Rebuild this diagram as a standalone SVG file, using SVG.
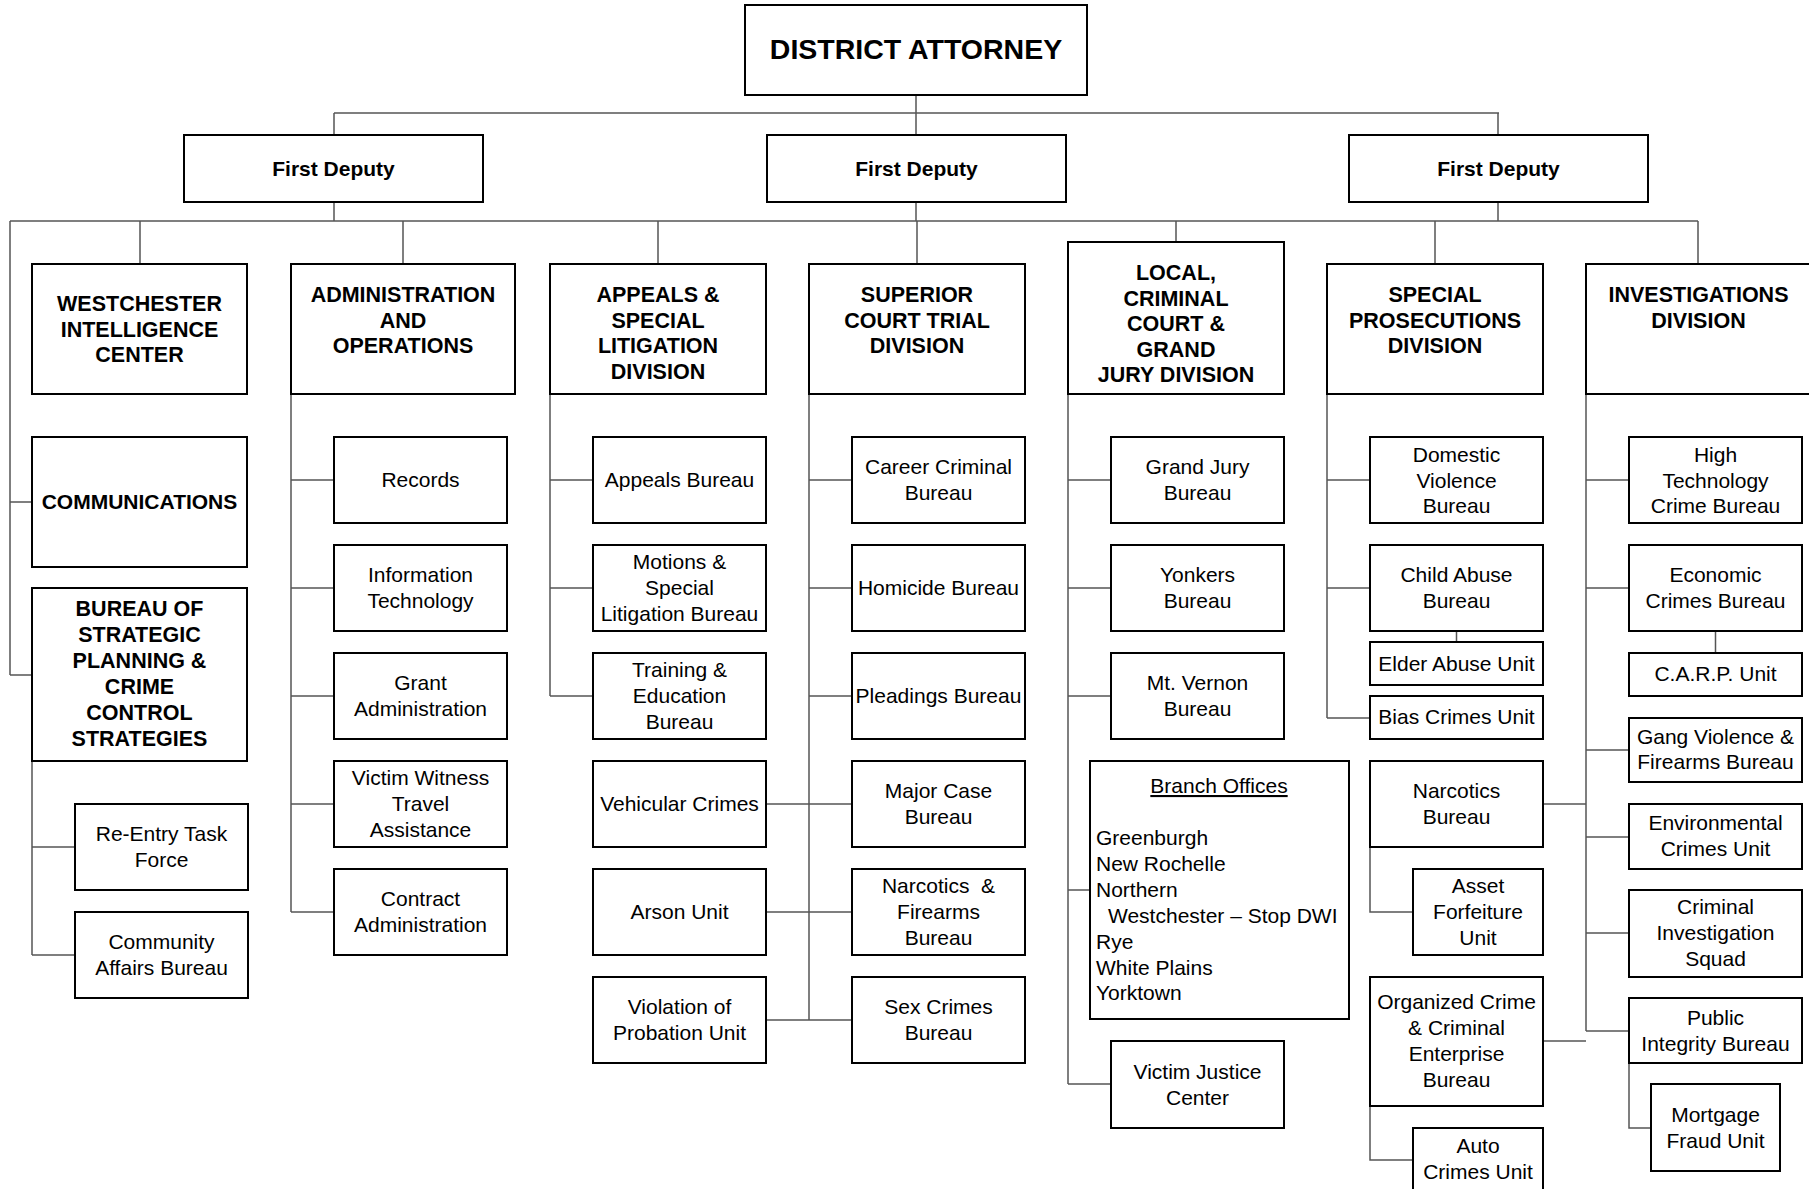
<svg xmlns="http://www.w3.org/2000/svg" width="1809" height="1189" viewBox="0 0 1809 1189">
<style>
.box{fill:#fff;stroke:#000;stroke-width:2}
.con{fill:none;stroke:#555;stroke-width:1.5}
.b{font-family:"Liberation Sans",Arial,sans-serif;font-weight:bold;font-size:21.5px;text-anchor:middle;fill:#000}
.r{font-family:"Liberation Sans",Arial,sans-serif;font-size:21px;text-anchor:middle;fill:#000}
.l{font-family:"Liberation Sans",Arial,sans-serif;font-size:21px;text-anchor:start;fill:#000}
</style>
<rect width="1809" height="1189" fill="#fff"/>
<g id="connectors">
<path class="con" d="M916 95V113M334 113H1499M334 113V135M916 113V135M1498 113V135"/>
<path class="con" d="M334 202V221M916 202V221M1498 202V221M10 221H1698"/>
<path class="con" d="M140 221V264M403 221V264M658 221V264M917 221V264M1176 221V242M1435 221V264M1698 221V264"/>
<path class="con" d="M10 221V675M10 502H32M10 675H32"/>
<path class="con" d="M32 761V955M32 847H75M32 955H75"/>
<path class="con" d="M291 394V912M291 480H334M291 588H334M291 696H334M291 804H334M291 912H334"/>
<path class="con" d="M550 394V696M550 480H593M550 588H593M550 696H593"/>
<path class="con" d="M809 394V1020M809 480H852M809 588H852M809 696H852M766 804H852M766 912H852M766 1020H852"/>
<path class="con" d="M1068 394V1084M1068 480H1111M1068 588H1111M1068 696H1111M1068 890H1090M1068 1084H1111"/>
<path class="con" d="M1327 394V718M1327 480H1370M1327 588H1370M1327 718H1370M1456.5 631V642"/>
<path class="con" d="M1370 847V912H1413M1370 1106V1160H1413M1543 804H1586M1543 1041H1586"/>
<path class="con" d="M1586 394V1031M1586 480H1629M1586 588H1629M1586 750H1629M1586 837H1629M1586 933H1629M1586 1031H1629"/>
<path class="con" d="M1715.5 631V653M1629 1063V1128H1651"/>
</g>
<g id="district-attorney"><rect class="box" x="745" y="5" width="342" height="90"/><text class="b" style="font-size:28.5px" x="916" y="58.5">DISTRICT ATTORNEY</text></g>
<g id="first-deputy-1"><rect class="box" x="184" y="135" width="299" height="67"/><text class="b" style="font-size:21px" x="333.5" y="176">First Deputy</text></g>
<g id="first-deputy-2"><rect class="box" x="767" y="135" width="299" height="67"/><text class="b" style="font-size:21px" x="916.5" y="176">First Deputy</text></g>
<g id="first-deputy-3"><rect class="box" x="1349" y="135" width="299" height="67"/><text class="b" style="font-size:21px" x="1498.5" y="176">First Deputy</text></g>

<g id="westchester-intelligence"><rect class="box" x="32" y="264" width="215" height="130"/><text class="b" x="139.5"><tspan x="139.5" y="311">WESTCHESTER</tspan><tspan x="139.5" y="336.5">INTELLIGENCE</tspan><tspan x="139.5" y="362">CENTER</tspan></text></g>
<g id="administration"><rect class="box" x="291" y="264" width="224" height="130"/><text class="b"><tspan x="403" y="301.5">ADMINISTRATION</tspan><tspan x="403" y="327.5">AND</tspan><tspan x="403" y="353">OPERATIONS</tspan></text></g>
<g id="appeals"><rect class="box" x="550" y="264" width="216" height="130"/><text class="b"><tspan x="658" y="301.5">APPEALS &amp;</tspan><tspan x="658" y="327.5">SPECIAL</tspan><tspan x="658" y="353">LITIGATION</tspan><tspan x="658" y="378.5">DIVISION</tspan></text></g>
<g id="superior"><rect class="box" x="809" y="264" width="216" height="130"/><text class="b"><tspan x="917" y="301.5">SUPERIOR</tspan><tspan x="917" y="327.5">COURT TRIAL</tspan><tspan x="917" y="353">DIVISION</tspan></text></g>
<g id="local"><rect class="box" x="1068" y="242" width="216" height="152"/><text class="b"><tspan x="1176" y="280">LOCAL,</tspan><tspan x="1176" y="305.5">CRIMINAL</tspan><tspan x="1176" y="331">COURT &amp;</tspan><tspan x="1176" y="356.5">GRAND</tspan><tspan x="1176" y="382">JURY DIVISION</tspan></text></g>
<g id="special"><rect class="box" x="1327" y="264" width="216" height="130"/><text class="b"><tspan x="1435" y="301.5">SPECIAL</tspan><tspan x="1435" y="327.5">PROSECUTIONS</tspan><tspan x="1435" y="353">DIVISION</tspan></text></g>
<g id="investigations"><rect class="box" x="1586" y="264" width="230" height="130"/><text class="b"><tspan x="1698.5" y="301.5">INVESTIGATIONS</tspan><tspan x="1698.5" y="327.5">DIVISION</tspan></text></g>

<g id="communications"><rect class="box" x="32" y="437" width="215" height="130"/><text class="b" style="font-size:21px" x="139.5" y="508.5">COMMUNICATIONS</text></g>
<g id="strategic-planning"><rect class="box" x="32" y="588" width="215" height="173"/><text class="b"><tspan x="139.5" y="616">BUREAU OF</tspan><tspan x="139.5" y="642">STRATEGIC</tspan><tspan x="139.5" y="668">PLANNING &amp;</tspan><tspan x="139.5" y="694">CRIME</tspan><tspan x="139.5" y="720">CONTROL</tspan><tspan x="139.5" y="746">STRATEGIES</tspan></text></g>
<g id="re-entry"><rect class="box" x="75" y="804" width="173" height="86"/><text class="r"><tspan x="161.5" y="841">Re-Entry Task</tspan><tspan x="161.5" y="867">Force</tspan></text></g>
<g id="community-affairs"><rect class="box" x="75" y="912" width="173" height="86"/><text class="r"><tspan x="161.5" y="949">Community</tspan><tspan x="161.5" y="975">Affairs Bureau</tspan></text></g>

<g id="records"><rect class="box" x="334" y="437" width="173" height="86"/><text class="r" x="420.5" y="487">Records</text></g>
<g id="information-technology"><rect class="box" x="334" y="545" width="173" height="86"/><text class="r"><tspan x="420.5" y="582">Information</tspan><tspan x="420.5" y="608">Technology</tspan></text></g>
<g id="grant-administration"><rect class="box" x="334" y="653" width="173" height="86"/><text class="r"><tspan x="420.5" y="690">Grant</tspan><tspan x="420.5" y="716">Administration</tspan></text></g>
<g id="victim-witness"><rect class="box" x="334" y="761" width="173" height="86"/><text class="r"><tspan x="420.5" y="785">Victim Witness</tspan><tspan x="420.5" y="811">Travel</tspan><tspan x="420.5" y="837">Assistance</tspan></text></g>
<g id="contract-administration"><rect class="box" x="334" y="869" width="173" height="86"/><text class="r"><tspan x="420.5" y="906">Contract</tspan><tspan x="420.5" y="932">Administration</tspan></text></g>

<g id="appeals-bureau"><rect class="box" x="593" y="437" width="173" height="86"/><text class="r" x="679.5" y="487">Appeals Bureau</text></g>
<g id="motions"><rect class="box" x="593" y="545" width="173" height="86"/><text class="r"><tspan x="679.5" y="569">Motions &amp;</tspan><tspan x="679.5" y="595">Special</tspan><tspan x="679.5" y="621">Litigation Bureau</tspan></text></g>
<g id="training"><rect class="box" x="593" y="653" width="173" height="86"/><text class="r"><tspan x="679.5" y="677">Training &amp;</tspan><tspan x="679.5" y="703">Education</tspan><tspan x="679.5" y="729">Bureau</tspan></text></g>
<g id="vehicular-crimes"><rect class="box" x="593" y="761" width="173" height="86"/><text class="r" x="679.5" y="811">Vehicular Crimes</text></g>
<g id="arson-unit"><rect class="box" x="593" y="869" width="173" height="86"/><text class="r" x="679.5" y="919">Arson Unit</text></g>
<g id="violation-probation"><rect class="box" x="593" y="977" width="173" height="86"/><text class="r"><tspan x="679.5" y="1014">Violation of</tspan><tspan x="679.5" y="1040">Probation Unit</tspan></text></g>

<g id="career-criminal"><rect class="box" x="852" y="437" width="173" height="86"/><text class="r"><tspan x="938.5" y="474">Career Criminal</tspan><tspan x="938.5" y="500">Bureau</tspan></text></g>
<g id="homicide"><rect class="box" x="852" y="545" width="173" height="86"/><text class="r" x="938.5" y="595">Homicide Bureau</text></g>
<g id="pleadings"><rect class="box" x="852" y="653" width="173" height="86"/><text class="r" x="938.5" y="703">Pleadings Bureau</text></g>
<g id="major-case"><rect class="box" x="852" y="761" width="173" height="86"/><text class="r"><tspan x="938.5" y="798">Major Case</tspan><tspan x="938.5" y="824">Bureau</tspan></text></g>
<g id="narcotics-firearms"><rect class="box" x="852" y="869" width="173" height="86"/><text class="r" xml:space="preserve"><tspan x="938.5" y="893">Narcotics  &amp;</tspan><tspan x="938.5" y="919">Firearms</tspan><tspan x="938.5" y="945">Bureau</tspan></text></g>
<g id="sex-crimes"><rect class="box" x="852" y="977" width="173" height="86"/><text class="r"><tspan x="938.5" y="1014">Sex Crimes</tspan><tspan x="938.5" y="1040">Bureau</tspan></text></g>

<g id="grand-jury"><rect class="box" x="1111" y="437" width="173" height="86"/><text class="r"><tspan x="1197.5" y="474">Grand Jury</tspan><tspan x="1197.5" y="500">Bureau</tspan></text></g>
<g id="yonkers"><rect class="box" x="1111" y="545" width="173" height="86"/><text class="r"><tspan x="1197.5" y="582">Yonkers</tspan><tspan x="1197.5" y="608">Bureau</tspan></text></g>
<g id="mt-vernon"><rect class="box" x="1111" y="653" width="173" height="86"/><text class="r"><tspan x="1197.5" y="690">Mt. Vernon</tspan><tspan x="1197.5" y="716">Bureau</tspan></text></g>
<g id="branch-offices"><rect class="box" x="1090" y="761" width="259" height="258"/>
<text class="r" x="1219" y="793" text-decoration="underline">Branch Offices</text>
<text class="l"><tspan x="1096" y="845">Greenburgh</tspan><tspan x="1096" y="871">New Rochelle</tspan><tspan x="1096" y="897">Northern</tspan><tspan x="1108" y="923">Westchester – Stop DWI</tspan><tspan x="1096" y="948.5">Rye</tspan><tspan x="1096" y="974.5">White Plains</tspan><tspan x="1096" y="1000">Yorktown</tspan></text></g>
<g id="victim-justice"><rect class="box" x="1111" y="1041" width="173" height="87"/><text class="r"><tspan x="1197.5" y="1078.5">Victim Justice</tspan><tspan x="1197.5" y="1104.5">Center</tspan></text></g>

<g id="domestic-violence"><rect class="box" x="1370" y="437" width="173" height="86"/><text class="r"><tspan x="1456.5" y="461.5">Domestic</tspan><tspan x="1456.5" y="487.5">Violence</tspan><tspan x="1456.5" y="513">Bureau</tspan></text></g>
<g id="child-abuse"><rect class="box" x="1370" y="545" width="173" height="86"/><text class="r"><tspan x="1456.5" y="582">Child Abuse</tspan><tspan x="1456.5" y="608">Bureau</tspan></text></g>
<g id="elder-abuse"><rect class="box" x="1370" y="642" width="173" height="43"/><text class="r" x="1456.5" y="670.5">Elder Abuse Unit</text></g>
<g id="bias-crimes"><rect class="box" x="1370" y="696" width="173" height="43"/><text class="r" x="1456.5" y="724">Bias Crimes Unit</text></g>
<g id="narcotics-bureau"><rect class="box" x="1370" y="761" width="173" height="86"/><text class="r"><tspan x="1456.5" y="797.5">Narcotics</tspan><tspan x="1456.5" y="823.5">Bureau</tspan></text></g>
<g id="asset-forfeiture"><rect class="box" x="1413" y="869" width="130" height="86"/><text class="r"><tspan x="1478" y="893">Asset</tspan><tspan x="1478" y="919">Forfeiture</tspan><tspan x="1478" y="945">Unit</tspan></text></g>
<g id="organized-crime"><rect class="box" x="1370" y="977" width="173" height="129"/><text class="r"><tspan x="1456.5" y="1008.5">Organized Crime</tspan><tspan x="1456.5" y="1034.5">&amp; Criminal</tspan><tspan x="1456.5" y="1060.5">Enterprise</tspan><tspan x="1456.5" y="1086.5">Bureau</tspan></text></g>
<g id="auto-crimes"><rect class="box" x="1413" y="1128" width="130" height="64"/><text class="r"><tspan x="1478" y="1153">Auto</tspan><tspan x="1478" y="1179">Crimes Unit</tspan></text></g>

<g id="high-technology"><rect class="box" x="1629" y="437" width="173" height="86"/><text class="r"><tspan x="1715.5" y="461.5">High</tspan><tspan x="1715.5" y="487.5">Technology</tspan><tspan x="1715.5" y="513">Crime Bureau</tspan></text></g>
<g id="economic-crimes"><rect class="box" x="1629" y="545" width="173" height="86"/><text class="r"><tspan x="1715.5" y="582">Economic</tspan><tspan x="1715.5" y="608">Crimes Bureau</tspan></text></g>
<g id="carp-unit"><rect class="box" x="1629" y="653" width="173" height="43"/><text class="r" x="1715.5" y="681">C.A.R.P. Unit</text></g>
<g id="gang-violence"><rect class="box" x="1629" y="718" width="173" height="64"/><text class="r"><tspan x="1715.5" y="743.5">Gang Violence &amp;</tspan><tspan x="1715.5" y="768.5">Firearms Bureau</tspan></text></g>
<g id="environmental-crimes"><rect class="box" x="1629" y="804" width="173" height="65"/><text class="r"><tspan x="1715.5" y="830">Environmental</tspan><tspan x="1715.5" y="856">Crimes Unit</tspan></text></g>
<g id="criminal-investigation"><rect class="box" x="1629" y="890" width="173" height="87"/><text class="r"><tspan x="1715.5" y="913.5">Criminal</tspan><tspan x="1715.5" y="939.5">Investigation</tspan><tspan x="1715.5" y="965.5">Squad</tspan></text></g>
<g id="public-integrity"><rect class="box" x="1629" y="998" width="173" height="65"/><text class="r"><tspan x="1715.5" y="1024.5">Public</tspan><tspan x="1715.5" y="1050.5">Integrity Bureau</tspan></text></g>
<g id="mortgage-fraud"><rect class="box" x="1651" y="1084" width="129" height="87"/><text class="r"><tspan x="1715.5" y="1121.5">Mortgage</tspan><tspan x="1715.5" y="1147.5">Fraud Unit</tspan></text></g>
</svg>
